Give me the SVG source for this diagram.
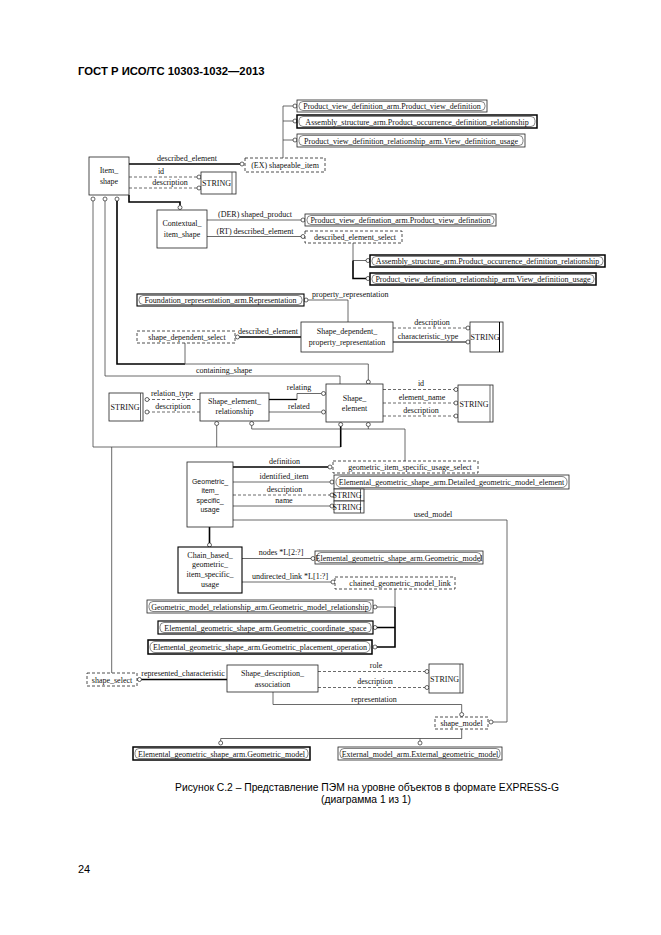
<svg xmlns="http://www.w3.org/2000/svg" width="661" height="935" viewBox="0 0 661 935">
<style>
.bg{fill:#fff}
.box{fill:#fff;stroke:#222;stroke-width:0.8}
.tb{fill:#fff;stroke:#000;stroke-width:1.5}
.db{fill:#fff;stroke:#222;stroke-width:0.8;stroke-dasharray:3,2}
.in{fill:none;stroke:#333;stroke-width:0.6}
.ln{fill:none;stroke:#444;stroke-width:0.8}
.tk{fill:none;stroke:#000;stroke-width:1.6}
.ds{fill:none;stroke:#444;stroke-width:0.8;stroke-dasharray:3,2}
.c{fill:#fff;stroke:#222;stroke-width:0.7}
text{font-family:"Liberation Serif","Times New Roman",serif;font-size:8px;fill:#111}
.m{text-anchor:middle}
.s{font-family:"Liberation Sans",Arial,sans-serif;font-size:7px}
.hd{font-family:"Liberation Sans",Arial,sans-serif;font-size:11.3px;font-weight:bold;fill:#000}
.cap{font-family:"Liberation Sans",Arial,sans-serif;font-size:10.3px;fill:#000;text-anchor:middle}
</style>
<rect class="bg" x="0" y="0" width="661" height="935"/>
<text class="hd" x="78" y="75">ГОСТ Р ИСО/ТС 10303-1032—2013</text>

<g id="connectors">
  <path class="ln" d="M283,106 V158 M283,106 H293 M283,121 H293 M283,140 H293"/>
  <circle class="c" cx="295" cy="106" r="2"/>
  <circle class="c" cx="295" cy="121" r="2"/>
  <circle class="c" cx="295" cy="140" r="2"/>
  <path class="tk" d="M129,164 H240"/>
  <circle class="c" cx="242" cy="164" r="2"/>
  <text class="m" x="187" y="161">described_element</text>
  <path class="ds" d="M129,177 H197 M129,188 H197"/>
  <circle class="c" cx="199" cy="177" r="2"/>
  <circle class="c" cx="199" cy="188" r="2"/>
  <text class="m" x="161" y="174">id</text>
  <text class="m" x="170" y="185">description</text>
  <circle class="c" cx="93" cy="199" r="2"/>
  <circle class="c" cx="105" cy="199" r="2"/>
  <circle class="c" cx="117" cy="199" r="2"/>
  <path class="tk" d="M129,195 V202 H180 V205.5"/>
  <circle class="c" cx="180" cy="207.5" r="2"/>
  <path class="ln" d="M207,220 H301 M207,236.5 H301"/>
  <circle class="c" cx="303" cy="220" r="2"/>
  <circle class="c" cx="303" cy="236.5" r="2"/>
  <text class="m" x="255" y="217">(DER) shaped_product</text>
  <text class="m" x="255" y="233.5">(RT) described_element</text>
  <path class="ln" d="M353,243 V260.5 H366"/>
  <path class="tk" d="M353,260.5 V278.5 H366"/>
  <circle class="c" cx="368" cy="260.5" r="2"/>
  <circle class="c" cx="368" cy="278.5" r="2"/>
  <circle class="c" cx="306" cy="300" r="2"/>
  <path class="ln" d="M308,300 H348 V322"/>
  <text x="312" y="297">property_representation</text>
  <circle class="c" cx="237.5" cy="337" r="2"/>
  <path class="tk" d="M239.5,337 H301"/>
  <text class="m" x="268" y="333.5">described_element</text>
  <path class="ds" d="M393,328 H466"/>
  <path class="tk" d="M393,342 H466" style="stroke-width:1.1"/>
  <circle class="c" cx="468" cy="328" r="2"/>
  <circle class="c" cx="468" cy="342" r="2"/>
  <text class="m" x="432" y="325">description</text>
  <text class="m" x="428" y="339">characteristic_type</text>
  <path class="tk" d="M117,201 V364 H185"/>
  <path class="ln" d="M185,343 V364 H368.3 V380"/>
  <circle class="c" cx="368.3" cy="382" r="2"/>
  <path class="ln" d="M105,201 V376 H340 V384"/>
  <text class="m" x="224" y="373">containing_shape</text>
  <path class="tk" d="M269,399.5 H297" style="stroke-width:1.3"/>
  <path class="ln" d="M297,399.5 V393.5 H321.5 M269,412 H321.5"/>
  <circle class="c" cx="323.5" cy="393.5" r="2"/>
  <circle class="c" cx="323.5" cy="412" r="2"/>
  <text class="m" x="299" y="390">relating</text>
  <text class="m" x="299" y="408.5">related</text>
  <path class="ds" d="M200,399.5 H149 M200,412 H149"/>
  <circle class="c" cx="147" cy="399.5" r="2"/>
  <circle class="c" cx="147" cy="412" r="2"/>
  <text class="m" x="172" y="396">relation_type</text>
  <text class="m" x="173" y="408.5">description</text>
  <path class="ds" d="M383,389.5 H454 M383,403 H454 M383,416 H454"/>
  <circle class="c" cx="456" cy="389.5" r="2"/>
  <circle class="c" cx="456" cy="403" r="2"/>
  <circle class="c" cx="456" cy="416" r="2"/>
  <text class="m" x="421" y="386">id</text>
  <text class="m" x="422" y="399.5">element_name</text>
  <text class="m" x="421" y="412.5">description</text>
  <circle class="c" cx="216.7" cy="423.5" r="2"/>
  <circle class="c" cx="251.7" cy="423.5" r="2"/>
  <circle class="c" cx="340.7" cy="424.5" r="2"/>
  <circle class="c" cx="368.3" cy="424.5" r="2"/>
  <path class="ln" d="M93,201 V447 H340.7 M216.7,425.5 V447 M111.7,447 V673"/>
  <path class="tk" d="M340.7,426.5 V447"/>
  <path class="ln" d="M251.7,425.5 V429 H405 V461 M368.3,426.5 V429"/>
  <path class="tk" d="M233,467 H328"/>
  <circle class="c" cx="330" cy="467" r="2"/>
  <text class="m" x="284.5" y="463.5">definition</text>
  <path class="ln" d="M233,482 H330 M233,506 H330"/>
  <path class="ds" d="M233,495 H330"/>
  <circle class="c" cx="332" cy="482" r="2"/>
  <circle class="c" cx="332" cy="495" r="2"/>
  <circle class="c" cx="332" cy="506" r="2"/>
  <text class="m" x="284" y="478.5">identified_item</text>
  <text class="m" x="284.5" y="491.5">description</text>
  <text class="m" x="284" y="503">name</text>
  <path class="ln" d="M233,520 H507 V722 H493"/>
  <circle class="c" cx="491" cy="722" r="2"/>
  <text class="m" x="433" y="517">used_model</text>
  <path class="tk" d="M209.5,527 V543"/>
  <circle class="c" cx="209.5" cy="545" r="2"/>
  <path class="ln" d="M242,558.5 H311 M242,582 H331"/>
  <circle class="c" cx="313" cy="558.5" r="2"/>
  <circle class="c" cx="333" cy="582" r="2"/>
  <text class="m" x="281" y="555">nodes *L[2:?]</text>
  <text class="m" x="290" y="578.5">undirected_link *L[1:?]</text>
  <path class="ln" d="M395,589 V607 H377"/>
  <path class="tk" d="M395,607 V647 H377 M395,627.5 H377"/>
  <circle class="c" cx="375" cy="607" r="2"/>
  <circle class="c" cx="375" cy="627.5" r="2"/>
  <circle class="c" cx="375" cy="647" r="2"/>
  <circle class="c" cx="139.5" cy="679.5" r="2"/>
  <path class="tk" d="M141.5,679.5 H227"/>
  <text class="m" x="183" y="676">represented_characteristic</text>
  <path class="ds" d="M318,671.5 H425 M318,687.5 H425"/>
  <circle class="c" cx="427" cy="671.5" r="2"/>
  <circle class="c" cx="427" cy="687.5" r="2"/>
  <text class="m" x="376" y="668">role</text>
  <text class="m" x="375" y="684">description</text>
  <path class="ln" d="M273,692 V704.5 H461.7 V712.5"/>
  <circle class="c" cx="461.7" cy="714.5" r="2"/>
  <text class="m" x="374" y="701.5">representation</text>
  <path class="ln" d="M461.7,729 V738.5 H220.7 V741 M420,738.5 V741"/>
  <circle class="c" cx="220.7" cy="743" r="2"/>
  <circle class="c" cx="420" cy="743" r="2"/>
</g>

<g id="pvd_arm">
  <rect class="box" x="297" y="100" width="190" height="12"/>
  <rect class="in" x="299" y="101.5" width="186" height="9" rx="4"/>
  <text class="m" x="392" y="109">Product_view_definition_arm.Product_view_definition</text>
</g>
<g id="pod_rel">
  <rect class="tb" x="297" y="115" width="240" height="13"/>
  <rect class="in" x="299" y="116.5" width="236" height="10" rx="4"/>
  <text class="m" x="417" y="124.5">Assembly_structure_arm.Product_occurrence_definition_relationship</text>
</g>
<g id="vdu_top">
  <rect class="box" x="297" y="134" width="228" height="13"/>
  <rect class="in" x="299" y="135.5" width="224" height="10" rx="4"/>
  <text class="m" x="411" y="143.5">Product_view_definition_relationship_arm.View_definition_usage</text>
</g>
<g id="shapeable_item">
  <rect class="db" x="245" y="158" width="80" height="14"/>
  <text class="m" x="285" y="167.5">(EX) shapeable_item</text>
</g>
<g id="item_shape">
  <rect class="box" x="89" y="157" width="40" height="38"/>
  <text class="m" x="109" y="173">Item_</text>
  <text class="m" x="109" y="184">shape</text>
</g>
<g id="string1">
  <rect class="box" x="201" y="172" width="35" height="22"/>
  <line class="ln" x1="232" y1="172" x2="232" y2="194"/>
  <text class="m" x="216.5" y="186">STRING</text>
</g>
<g id="contextual_item_shape">
  <rect class="box" x="157" y="210" width="50" height="38"/>
  <text class="m" x="182" y="226">Contextual_</text>
  <text class="m" x="182" y="237">item_shape</text>
</g>
<g id="pvd_arm2">
  <rect class="box" x="305" y="214" width="191" height="12"/>
  <rect class="in" x="307" y="215.5" width="187" height="9" rx="4"/>
  <text class="m" x="400.5" y="223">Product_view_defination_arm.Product_view_defination</text>
</g>
<g id="described_element_select">
  <rect class="db" x="305" y="231" width="97" height="12"/>
  <text class="m" x="355" y="240">described_element_select</text>
</g>
<g id="pod_rel2">
  <rect class="tb" x="370" y="255" width="235" height="12"/>
  <rect class="in" x="372" y="256.5" width="231" height="9" rx="4"/>
  <text class="m" x="487.5" y="264">Assembly_structure_arm.Product_occurrence_definition_relationship</text>
</g>
<g id="vdu2">
  <rect class="tb" x="370" y="273" width="226" height="12"/>
  <rect class="in" x="372" y="274.5" width="222" height="9" rx="4"/>
  <text class="m" x="483" y="282">Product_view_defination_relationship_arm.View_definition_usage</text>
</g>
<g id="foundation_representation">
  <rect class="tb" x="137" y="294" width="167" height="12" style="stroke-width:1.1"/>
  <rect class="in" x="139" y="295.5" width="163" height="9" rx="4"/>
  <text class="m" x="220.5" y="303">Foundation_representation_arm.Representation</text>
</g>
<g id="shape_dependent_select">
  <rect class="db" x="137" y="331" width="98" height="12"/>
  <text class="m" x="187" y="340">shape_dependent_select</text>
</g>
<g id="shape_dependent_property_representation">
  <rect class="box" x="301" y="322" width="92" height="30"/>
  <text class="m" x="347" y="334">Shape_dependent_</text>
  <text class="m" x="347" y="345">property_representation</text>
</g>
<g id="string2">
  <rect class="box" x="470" y="322" width="33" height="30"/>
  <line class="tk" x1="499.5" y1="322" x2="499.5" y2="352" style="stroke-width:1"/>
  <text class="m" x="485" y="340">STRING</text>
</g>
<g id="string3">
  <rect class="box" x="109" y="393" width="34" height="28"/>
  <line class="ln" x1="140.5" y1="393" x2="140.5" y2="421"/>
  <text class="m" x="125" y="410">STRING</text>
</g>
<g id="shape_element_relationship">
  <rect class="box" x="200" y="393" width="69" height="28"/>
  <text class="m" x="234.5" y="404">Shape_element_</text>
  <text class="m" x="234.5" y="414">relationship</text>
</g>
<g id="shape_element">
  <rect class="box" x="326" y="384" width="57" height="38"/>
  <text class="m" x="354.5" y="400.5">Shape_</text>
  <text class="m" x="354.5" y="410.5">element</text>
</g>
<g id="string4">
  <rect class="box" x="458" y="385" width="35" height="37"/>
  <line class="ln" x1="490" y1="385" x2="490" y2="422"/>
  <text class="m" x="474" y="406.5">STRING</text>
</g>
<g id="geometric_item_specific_usage">
  <rect class="box" x="187" y="462" width="46" height="65"/>
  <text class="m s" x="210" y="484">Geometric_</text>
  <text class="m s" x="210" y="493">item_</text>
  <text class="m s" x="210" y="502.5">specific_</text>
  <text class="m s" x="210" y="511.5">usage</text>
</g>
<g id="geometric_item_specific_usage_select">
  <rect class="db" x="333" y="461" width="145" height="12"/>
  <text class="m" x="410" y="470">geometric_item_specific_usage_select</text>
</g>
<g id="detailed_geometric_model_element">
  <rect class="box" x="334" y="475" width="235" height="14"/>
  <rect class="in" x="336" y="476.5" width="231" height="11" rx="5"/>
  <text class="m" x="451.5" y="485">Elemental_geometric_shape_arm.Detailed_geometric_model_element</text>
</g>
<g id="string5">
  <rect class="box" x="334" y="489" width="30" height="12"/>
  <line class="ln" x1="360.5" y1="489" x2="360.5" y2="501"/>
  <text class="m" x="347" y="498">STRING</text>
</g>
<g id="string6">
  <rect class="box" x="334" y="501" width="30" height="12"/>
  <line class="ln" x1="360.5" y1="501" x2="360.5" y2="513"/>
  <text class="m" x="347" y="510">STRING</text>
</g>
<g id="chain_based_geometric_item_specific_usage">
  <rect class="tb" x="178" y="547" width="64" height="46" style="stroke-width:1.1"/>
  <text class="m" x="210" y="558">Chain_based_</text>
  <text class="m" x="210" y="567">geometric_</text>
  <text class="m" x="210" y="576.5">item_specific_</text>
  <text class="m" x="210" y="586.5">usage</text>
</g>
<g id="geometric_model1">
  <rect class="box" x="315" y="551" width="168" height="13"/>
  <rect class="in" x="317" y="552.5" width="164" height="10" rx="4"/>
  <text class="m" x="399" y="560.5">Elemental_geometric_shape_arm.Geometric_model</text>
</g>
<g id="chained_geometric_model_link">
  <rect class="db" x="335" y="577" width="120" height="12"/>
  <text class="m" x="400" y="586">chained_geometric_model_link</text>
</g>
<g id="geometric_model_relationship">
  <rect class="box" x="147" y="600" width="226" height="13"/>
  <rect class="in" x="149" y="601.5" width="222" height="10" rx="4"/>
  <text class="m" x="260" y="609.5">Geometric_model_relationship_arm.Geometric_model_relationship</text>
</g>
<g id="geometric_coordinate_space">
  <rect class="tb" x="158" y="621" width="215" height="13" style="stroke-width:1.2"/>
  <rect class="in" x="160" y="622.5" width="211" height="10" rx="4"/>
  <text class="m" x="265.5" y="630.5">Elemental_geometric_shape_arm.Geometric_coordinate_space</text>
</g>
<g id="geometric_placement_operation">
  <rect class="tb" x="148" y="640" width="224" height="14"/>
  <rect class="in" x="150" y="641.5" width="220" height="11" rx="5"/>
  <text class="m" x="260" y="650">Elemental_geometric_shape_arm.Geometric_placement_operation</text>
</g>
<g id="shape_select">
  <rect class="db" x="87" y="673" width="50" height="13"/>
  <text class="m" x="112" y="682.5">shape_select</text>
</g>
<g id="shape_description_association">
  <rect class="box" x="227" y="665" width="91" height="27"/>
  <text class="m" x="272.5" y="676">Shape_description_</text>
  <text class="m" x="272.5" y="687">association</text>
</g>
<g id="string7">
  <rect class="box" x="429" y="664" width="34" height="29"/>
  <line class="ln" x1="460" y1="664" x2="460" y2="693"/>
  <text class="m" x="444.5" y="681.5">STRING</text>
</g>
<g id="shape_model">
  <rect class="db" x="435" y="717" width="53" height="12"/>
  <text class="m" x="461.5" y="726">shape_model</text>
</g>
<g id="geometric_model2">
  <rect class="tb" x="133" y="747" width="177" height="13"/>
  <rect class="in" x="135" y="748.5" width="173" height="10" rx="4"/>
  <text class="m" x="221.5" y="756.5">Elemental_geometric_shape_arm.Geometric_model</text>
</g>
<g id="external_geometric_model">
  <rect class="box" x="338" y="747" width="164" height="13"/>
  <rect class="in" x="340" y="748.5" width="160" height="10" rx="4"/>
  <text class="m" x="420" y="756.5">External_model_arm.External_geometric_model</text>
</g>

<text class="cap" x="367" y="791">Рисунок С.2 – Представление ПЭМ на уровне объектов в формате EXPRESS-G</text>
<text class="cap" x="366" y="803">(диаграмма 1 из 1)</text>
<text x="78" y="873" style="font-family:'Liberation Sans',Arial,sans-serif;font-size:11px;fill:#000">24</text>
</svg>
